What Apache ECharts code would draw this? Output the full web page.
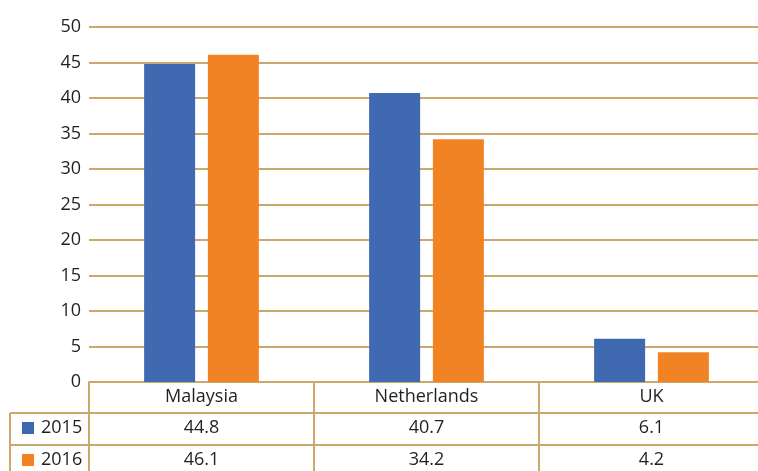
<!DOCTYPE html>
<html>
<head>
<meta charset="utf-8">
<script src="https://cdn.jsdelivr.net/npm/echarts@6/dist/echarts.min.js"></script>
<style>html,body{margin:0;padding:0;background:#fff;overflow:hidden}#c{width:764px;height:471px}</style>
</head>
<body>
<div id="c"></div>
<script>
var categories = ['Malaysia', 'Netherlands', 'UK'];
var seriesNames = ['2015', '2016'];
var values2015 = [44.8, 40.7, 6.1];
var values2016 = [46.1, 34.2, 4.2];
var yTicks = [0, 5, 10, 15, 20, 25, 30, 35, 40, 45, 50];

var FONT = 'Open Sans';
var TXT = '#231f20';
var LINE = '#c9a96e';
var FS = 18;

function tableAxis(data, offset) {
  return {
    type: 'category', gridIndex: 0, position: 'bottom', offset: offset,
    data: data, boundaryGap: true,
    axisLine: { show: true, lineStyle: { color: LINE, width: 2 } },
    axisTick: { show: true, length: 32, inside: false, lineStyle: { color: LINE, width: 2 } },
    axisLabel: { show: true, color: TXT, fontFamily: FONT, fontSize: FS, margin: 6, interval: 0 },
    splitLine: { show: false }
  };
}

function legendRow(name, top) {
  return {
    data: [name], orient: 'horizontal', left: 22, top: top, padding: 0,
    icon: 'rect', itemWidth: 12, itemHeight: 12, itemGap: 10,
    textStyle: { color: TXT, fontFamily: FONT, fontSize: FS, padding: [0, 0, 0, 2] }, selectedMode: false
  };
}

var chart = echarts.init(document.getElementById('c'), null, { renderer: 'canvas' });
chart.setOption({
  animation: false,
  backgroundColor: '#fff',
  grid: { left: 89, right: 0, top: 27, bottom: 89, containLabel: false },
  legend: [legendRow(seriesNames[0], 419), legendRow(seriesNames[1], 451)],
  xAxis: [
    tableAxis(categories, 0),
    tableAxis(values2015.map(String), 31),
    tableAxis(values2016.map(String), 63)
  ],
  yAxis: {
    type: 'value', min: yTicks[0], max: yTicks[yTicks.length - 1], interval: 5,
    axisLine: { show: false }, axisTick: { show: false },
    axisLabel: { color: TXT, fontFamily: FONT, fontSize: FS, margin: 8 },
    splitLine: { lineStyle: { color: LINE, width: 2 } }
  },
  series: [
    { name: seriesNames[0], type: 'bar', data: values2015, itemStyle: { color: '#3f69b1' }, barWidth: 51, barGap: '25%', xAxisIndex: 0 },
    { name: seriesNames[1], type: 'bar', data: values2016, itemStyle: { color: '#f28324' }, barWidth: 51, xAxisIndex: 0 }
  ],
  graphic: [
    { type: 'line', shape: { x1: 10, y1: 413, x2: 90, y2: 413 }, style: { stroke: LINE, lineWidth: 2 } },
    { type: 'line', shape: { x1: 10, y1: 445, x2: 90, y2: 445 }, style: { stroke: LINE, lineWidth: 2 } },
    { type: 'line', shape: { x1: 10, y1: 413, x2: 10, y2: 471 }, style: { stroke: LINE, lineWidth: 2 } }
  ]
});
</script>
</body>
</html>
